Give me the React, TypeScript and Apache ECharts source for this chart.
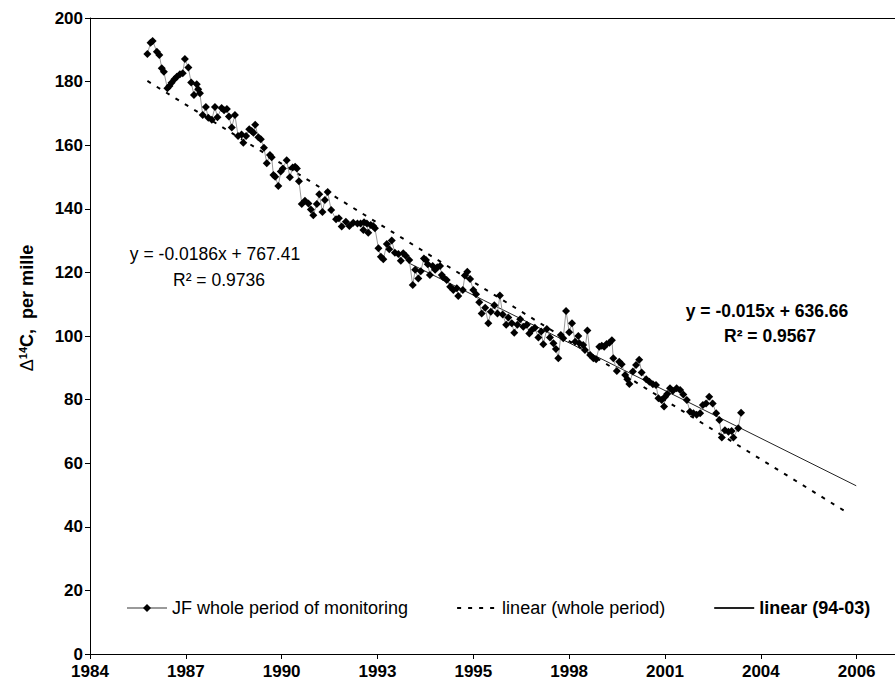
import React, { useEffect, useRef } from 'react';
import * as echarts from 'echarts';

// Axis: Excel date axis, ticks every 1000 days starting late 1984
const T0 = 1984.9;
const STEP = 1000 / 365.25;
const TICK_LABELS = ['1984', '1987', '1990', '1993', '1995', '1998', '2001', '2004', '2006'];

const SERIES_NAMES = ['JF whole period of monitoring', 'linear (whole period)', 'linear (94-03)'];

// JF monitoring data (decimal year, Δ14C per mille)
const YEARS = [
  1986.54, 1986.63, 1986.69, 1986.81, 1986.88, 1986.95, 1987.01, 1987.11, 1987.17, 1987.23,
  1987.31, 1987.38, 1987.47, 1987.55, 1987.61, 1987.71, 1987.79, 1987.87, 1987.95, 1987.99,
  1988.04, 1988.12, 1988.21, 1988.28, 1988.38, 1988.47, 1988.54, 1988.66, 1988.73, 1988.81,
  1988.87, 1988.95, 1989.04, 1989.13, 1989.23, 1989.28, 1989.36, 1989.45, 1989.52, 1989.57,
  1989.62, 1989.71, 1989.78, 1989.87, 1989.95, 1990.04, 1990.09, 1990.14, 1990.19, 1990.28,
  1990.35, 1990.41, 1990.52, 1990.61, 1990.69, 1990.76, 1990.81, 1990.87, 1990.95, 1991.04,
  1991.14, 1991.21, 1991.28, 1991.38, 1991.45, 1991.54, 1991.61, 1991.69, 1991.79, 1991.93,
  1992.01, 1992.09, 1992.21, 1992.31, 1992.42, 1992.54, 1992.63, 1992.71, 1992.73, 1992.81,
  1992.85, 1992.92, 1992.99, 1993.04, 1993.14, 1993.21, 1993.28, 1993.38, 1993.45, 1993.52,
  1993.61, 1993.71, 1993.78, 1993.85, 1993.92, 1994.02, 1994.12, 1994.19, 1994.28, 1994.35,
  1994.44, 1994.5, 1994.55, 1994.61, 1994.69, 1994.76, 1994.82, 1994.9, 1994.95, 1994.99,
  1995.09, 1995.19, 1995.28, 1995.38, 1995.42, 1995.55, 1995.61, 1995.68, 1995.76, 1995.85,
  1995.93, 1996.02, 1996.09, 1996.19, 1996.28, 1996.35, 1996.45, 1996.54, 1996.61, 1996.69,
  1996.79, 1996.85, 1996.95, 1997.02, 1997.11, 1997.19, 1997.28, 1997.38, 1997.45, 1997.52,
  1997.61, 1997.71, 1997.79, 1997.85, 1997.95, 1998.04, 1998.14, 1998.21, 1998.28, 1998.35,
  1998.42, 1998.5, 1998.59, 1998.67, 1998.76, 1998.85, 1998.88, 1998.99, 1999.04, 1999.11,
  1999.19, 1999.28, 1999.36, 1999.45, 1999.52, 1999.59, 1999.66, 1999.74, 1999.81, 1999.85,
  1999.95, 2000.02, 2000.09, 2000.19, 2000.25, 2000.31, 2000.41, 2000.5, 2000.59, 2000.66,
  2000.79, 2000.88, 2000.98, 2001.07, 2001.14, 2001.23, 2001.3, 2001.33, 2001.39, 2001.47,
  2001.55, 2001.66, 2001.76, 2001.85, 2001.95, 2002.04, 2002.14, 2002.23, 2002.33, 2002.41,
  2002.5, 2002.59, 2002.69, 2002.79, 2002.88, 2002.95, 2003.04, 2003.14, 2003.23, 2003.28,
  2003.42, 2003.5,
];
const VALUES = [
  188.7, 192.2, 192.8, 189.4, 188.4, 184.2, 183.1, 177.9, 178.6, 179.6,
  180.7, 181.5, 182.3, 182.6, 187.1, 184.4, 179.7, 175.8, 179.2, 177.6,
  176.3, 169.5, 172.0, 168.6, 168.0, 172.0, 168.8, 171.7, 171.0, 171.4,
  169.0, 165.6, 169.5, 162.9, 163.4, 160.8, 162.9, 165.0, 164.5, 163.9,
  166.4, 162.5, 161.9, 159.2, 154.3, 156.9, 156.2, 150.6, 150.1, 147.2,
  151.7, 152.7, 155.3, 149.9, 153.0, 153.2, 152.7, 148.7, 141.5, 142.5,
  141.7, 139.8, 138.0, 141.5, 144.6, 139.0, 142.8, 145.3, 139.6, 136.7,
  137.0, 134.4, 135.9, 134.6, 135.6, 135.4, 135.4, 133.3, 135.8, 135.4,
  132.5, 134.9, 134.6, 133.9, 127.6, 124.9, 124.1, 128.9, 127.3, 130.0,
  126.2, 125.8, 123.7, 126.0, 125.2, 123.9, 116.0, 120.8, 118.1, 120.4,
  124.4, 123.9, 122.6, 119.2, 122.0, 120.8, 121.6, 122.0, 119.2, 118.5,
  117.6, 115.5, 114.5, 115.0, 112.6, 114.5, 119.0, 120.2, 117.9, 114.5,
  113.1, 110.6, 107.1, 108.9, 104.0, 107.6, 109.7, 107.1, 112.7, 106.8,
  103.5, 105.8, 104.0, 101.0, 103.5, 105.3, 102.9, 103.5, 100.8, 101.9,
  102.6, 99.5, 101.4, 97.4, 102.2, 99.5, 97.7, 95.9, 93.0, 100.3,
  99.3, 107.9, 101.2, 104.0, 98.2, 100.0, 97.7, 97.2, 95.6, 101.7,
  94.0, 93.0, 92.7, 96.6, 96.9, 96.6, 97.5, 97.9, 98.7, 93.0,
  89.0, 91.9, 91.1, 87.7, 86.4, 84.9, 88.8, 90.9, 92.5, 88.5,
  86.4, 85.6, 84.8, 84.6, 80.4, 79.9, 77.8, 80.9, 81.8, 83.6,
  82.8, 83.6, 83.0, 81.6, 79.9, 76.2, 75.7, 75.2, 75.7, 78.3,
  78.8, 80.9, 78.8, 75.7, 73.6, 68.1, 70.4, 69.9, 70.1, 68.1,
  71.0, 75.9,
];

// Trend lines (end points)
const WHOLE_TREND_YEARS = [1986.54, 2006.5];
const WHOLE_TREND_VALUES = [180.2, 44.7];
const RECENT_TREND_YEARS = [1994.0, 2006.79];
const RECENT_TREND_VALUES = [123.0, 52.9];

const EQ_WHOLE = ['y = -0.0186x + 767.41', 'R² = 0.9736'];
const EQ_RECENT = ['y = -0.015x + 636.66', 'R² = 0.9567'];

const FONT = '"Liberation Sans", Arial, Helvetica, sans-serif';
const CLEAR = 'rgba(0,0,0,0)';

export default function App() {
  const ref = useRef<HTMLDivElement>(null);

  useEffect(() => {
    if (!ref.current) return;
    const chart = echarts.init(ref.current, undefined, { renderer: 'svg' });
    const tickValues = TICK_LABELS.map((_, i) => T0 + i * STEP);
    const xMin = T0;
    const xMax = T0 + 8.4 * STEP;
    const black = '#000';
    const center = { textAlign: 'center', textVerticalAlign: 'middle', align: 'center', verticalAlign: 'middle' };

    const option: any = {
      animation: false,
      backgroundColor: '#fff',
      textStyle: { fontFamily: FONT },
      grid: { left: 90, right: 0, top: 18, bottom: 30, outerBoundsMode: 'none', containLabel: false },
      xAxis: [
        {
          type: 'value',
          min: xMin,
          max: xMax,
          splitLine: { show: false },
          axisLine: { show: true, onZero: false, lineStyle: { color: black, width: 1 } },
          axisTick: { show: true, customValues: tickValues, length: 5, inside: false, lineStyle: { color: black } },
          axisLabel: {
            customValues: tickValues,
            formatter: (v: number) => TICK_LABELS[Math.round((v - T0) / STEP)] ?? '',
            fontWeight: 'bold',
            fontSize: 17,
            fontFamily: FONT,
            color: black,
            margin: 9,
            hideOverlap: false,
          },
        },
        {
          type: 'value',
          position: 'top',
          min: xMin,
          max: xMax,
          splitLine: { show: false },
          axisLine: { show: true, onZero: false, lineStyle: { color: black, width: 1 } },
          axisTick: { show: false },
          axisLabel: { show: false },
        },
      ],
      yAxis: {
        type: 'value',
        min: 0,
        max: 200,
        interval: 20,
        splitLine: { show: false },
        axisLine: { show: true, onZero: false, lineStyle: { color: black, width: 1 } },
        axisTick: { show: true, length: 5, lineStyle: { color: black } },
        axisLabel: { fontWeight: 'bold', fontSize: 17, fontFamily: FONT, color: black, margin: 7 },
      },
      legend: {
        left: 121,
        top: 594,
        itemWidth: 40,
        itemHeight: 10,
        itemGap: 48,
        textStyle: { fontSize: 18, color: black, fontFamily: FONT },
        data: [
          { name: SERIES_NAMES[0] },
          { name: SERIES_NAMES[1], itemStyle: { color: CLEAR, borderWidth: 0, borderColor: CLEAR } },
          {
            name: SERIES_NAMES[2],
            itemStyle: { color: CLEAR, borderWidth: 0, borderColor: CLEAR },
            textStyle: { fontWeight: 'bold', fontSize: 18, color: black },
          },
        ],
      },
      series: [
        {
          name: SERIES_NAMES[0],
          type: 'line',
          data: YEARS.map((y, i) => [y, VALUES[i]]),
          symbol: 'diamond',
          symbolSize: 8,
          showSymbol: true,
          itemStyle: { color: black },
          lineStyle: { color: '#9a9a9a', width: 1 },
          z: 3,
        },
        {
          name: SERIES_NAMES[1],
          type: 'line',
          data: WHOLE_TREND_YEARS.map((y, i) => [y, WHOLE_TREND_VALUES[i]]),
          symbol: 'none',
          itemStyle: { color: CLEAR, borderColor: CLEAR },
          lineStyle: { color: black, width: 2, type: [4, 7] },
          z: 2,
        },
        {
          name: SERIES_NAMES[2],
          type: 'line',
          data: RECENT_TREND_YEARS.map((y, i) => [y, RECENT_TREND_VALUES[i]]),
          symbol: 'none',
          itemStyle: { color: CLEAR, borderColor: CLEAR },
          lineStyle: { color: '#222', width: 1 },
          z: 2,
        },
      ],
      graphic: [
        {
          type: 'text',
          x: 27,
          y: 308,
          rotation: Math.PI / 2,
          style: {
            text: '{d|Δ}{s|14}{a|C,  per mille}',
            ...center,
            fill: black,
            rich: {
              d: { fontSize: 18, fontFamily: FONT, color: black },
              s: { fontSize: 11, fontWeight: 'bold', fontFamily: FONT, padding: [0, 0, 9, 0], color: black },
              a: { fontSize: 18, fontWeight: 'bold', fontFamily: FONT, color: black },
            },
          },
        },
        {
          type: 'text',
          x: 215,
          y: 254,
          style: { text: EQ_WHOLE[0], font: `17.5px ${FONT}`, fill: black, ...center },
        },
        {
          type: 'text',
          x: 219,
          y: 280,
          style: { text: EQ_WHOLE[1], font: `17.5px ${FONT}`, fill: black, ...center },
        },
        {
          type: 'text',
          x: 767,
          y: 311,
          style: { text: EQ_RECENT[0], font: `bold 17.5px ${FONT}`, fill: black, ...center },
        },
        {
          type: 'text',
          x: 770,
          y: 336,
          style: { text: EQ_RECENT[1], font: `bold 17.5px ${FONT}`, fill: black, ...center },
        },
      ],
    };

    chart.setOption(option);
    return () => chart.dispose();
  }, []);

  return (
    <div
      ref={ref}
      style={{ position: 'absolute', left: 0, top: 0, width: 895, height: 684, background: '#fff' }}
    />
  );
}
